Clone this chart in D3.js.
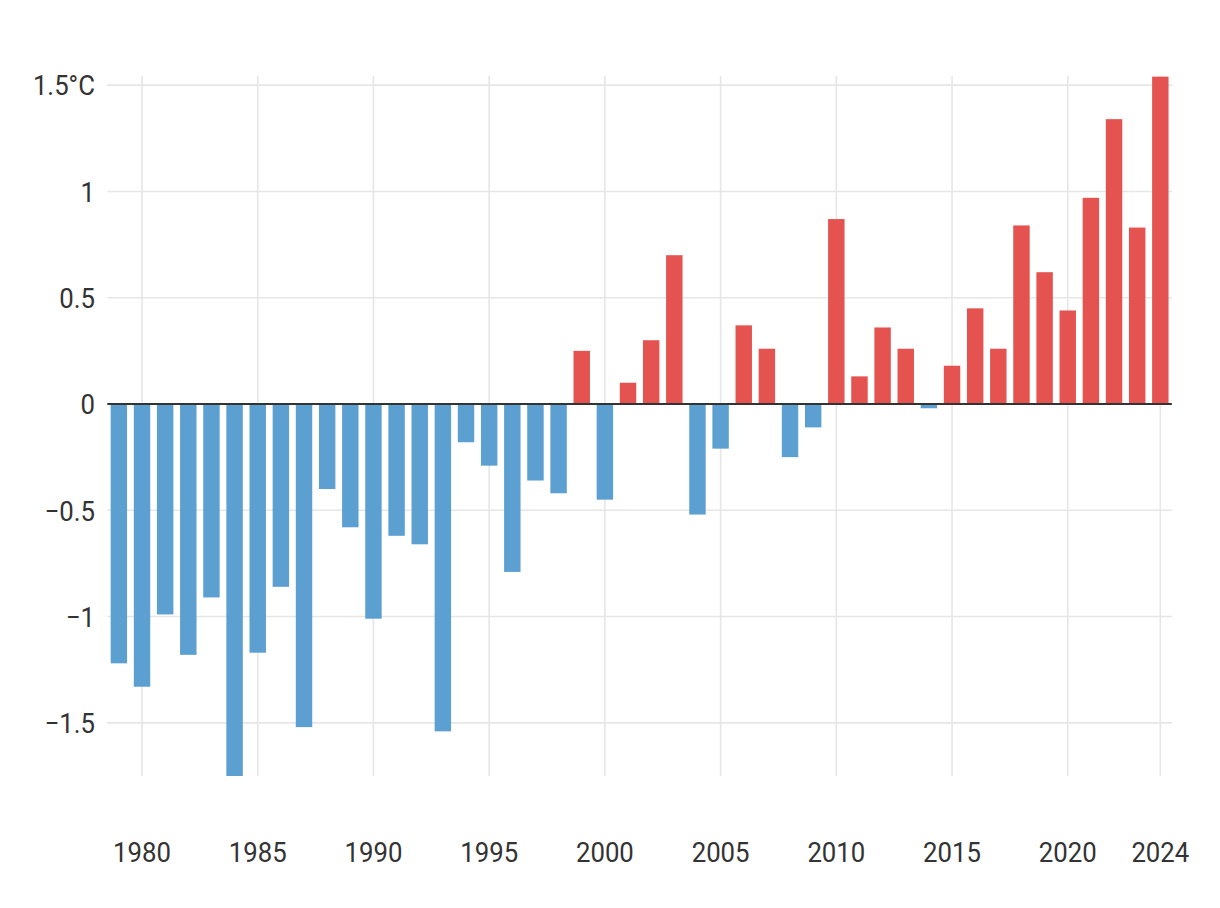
<!DOCTYPE html>
<html>
<head>
<meta charset="utf-8">
<script src="https://cdn.jsdelivr.net/npm/d3@7"></script>
<style>
  html, body { margin: 0; padding: 0; background: #fff; }
  svg { display: block; }
  text { font-family: Roboto, "Noto Sans", sans-serif; fill: #333; }
</style>
</head>
<body>
<svg id="chart" width="1220" height="908"></svg>
<script>
const years = d3.range(1979, 2025);
const anomalies = [
  -1.22, -1.33, -0.99, -1.18, -0.91, -1.75, -1.17, -0.86, -1.52, -0.40,
  -0.58, -1.01, -0.62, -0.66, -1.54, -0.18, -0.29, -0.79, -0.36, -0.42,
   0.25, -0.45,  0.10,  0.30,  0.70, -0.52, -0.21,  0.37,  0.26, -0.25,
  -0.11,  0.87,  0.13,  0.36,  0.26, -0.02,  0.18,  0.45,  0.26,  0.84,
   0.62,  0.44,  0.97,  1.34,  0.83,  1.54
];
const xTickYears = [1980, 1985, 1990, 1995, 2000, 2005, 2010, 2015, 2020, 2024];
const yTickValues = [-1.5, -1, -0.5, 0, 0.5, 1, 1.5];
const yTickLabels = ["−1.5", "−1", "−0.5", "0", "0.5", "1", "1.5°C"];

const data = years.map((y, i) => ({ year: y, value: anomalies[i] }));

const svg = d3.select("#chart");
const plot = { left: 107.3, right: 1171.9, top: 76, bottom: 776 };

const x = d3.scaleBand()
  .domain(years)
  .range([plot.left, plot.right])
  .paddingInner(0.29)
  .paddingOuter(0.145);

const y = d3.scaleLinear()
  .domain([-1.75, 1.543])
  .range([plot.bottom, plot.top]);

const cx = yr => x(yr) + x.bandwidth() / 2;

// vertical gridlines
svg.append("g").selectAll("line")
  .data(xTickYears).join("line")
  .attr("x1", d => cx(d)).attr("x2", d => cx(d))
  .attr("y1", plot.top).attr("y2", plot.bottom)
  .attr("stroke", "#e6e6e6").attr("stroke-width", 1.6);

// horizontal gridlines
svg.append("g").selectAll("line")
  .data(yTickValues.filter(v => v !== 0)).join("line")
  .attr("x1", plot.left).attr("x2", plot.right)
  .attr("y1", d => y(d)).attr("y2", d => y(d))
  .attr("stroke", "#e6e6e6").attr("stroke-width", 1.6);

// bars
svg.append("defs").append("clipPath").attr("id", "clip")
  .append("rect").attr("x", plot.left).attr("y", plot.top)
  .attr("width", plot.right - plot.left).attr("height", plot.bottom - plot.top);

svg.append("g").attr("clip-path", "url(#clip)").selectAll("rect")
  .data(data).join("rect")
  .attr("x", d => x(d.year))
  .attr("width", x.bandwidth())
  .attr("y", d => y(Math.max(0, d.value)))
  .attr("height", d => Math.abs(y(d.value) - y(0)))
  .attr("fill", d => d.value >= 0 ? "#e4534f" : "#5c9fd1");

// zero line
svg.append("line")
  .attr("x1", plot.left).attr("x2", plot.right)
  .attr("y1", y(0)).attr("y2", y(0))
  .attr("stroke", "#333").attr("stroke-width", 2);

// y labels
const yAxis = d3.axisLeft(y)
  .tickValues(yTickValues)
  .tickFormat((d, i) => yTickLabels[i])
  .tickSize(0).tickPadding(0);
const gy = svg.append("g").attr("transform", "translate(95,0)").call(yAxis);
gy.select(".domain").remove();
gy.selectAll("text")
  .attr("font-family", "Roboto, sans-serif")
  .attr("font-size", 28)
  .attr("fill", "#333")
  .attr("dy", "0.35em")
  .attr("x", 0)
  .style("transform-box", "fill-box")
  .style("transform-origin", "right center")
  .style("transform", "scaleX(0.92)");

// x labels
const xAxis = d3.axisBottom(x)
  .tickValues(xTickYears)
  .tickSize(0).tickPadding(0);
const gx = svg.append("g").attr("transform", "translate(0,862)").call(xAxis);
gx.select(".domain").remove();
gx.selectAll("text")
  .attr("font-family", "Roboto, sans-serif")
  .attr("font-size", 28)
  .attr("fill", "#333")
  .attr("dy", 0)
  .attr("y", 0)
  .style("transform-box", "fill-box")
  .style("transform-origin", "center center")
  .style("transform", "scaleX(0.92)");
</script>
</body>
</html>
